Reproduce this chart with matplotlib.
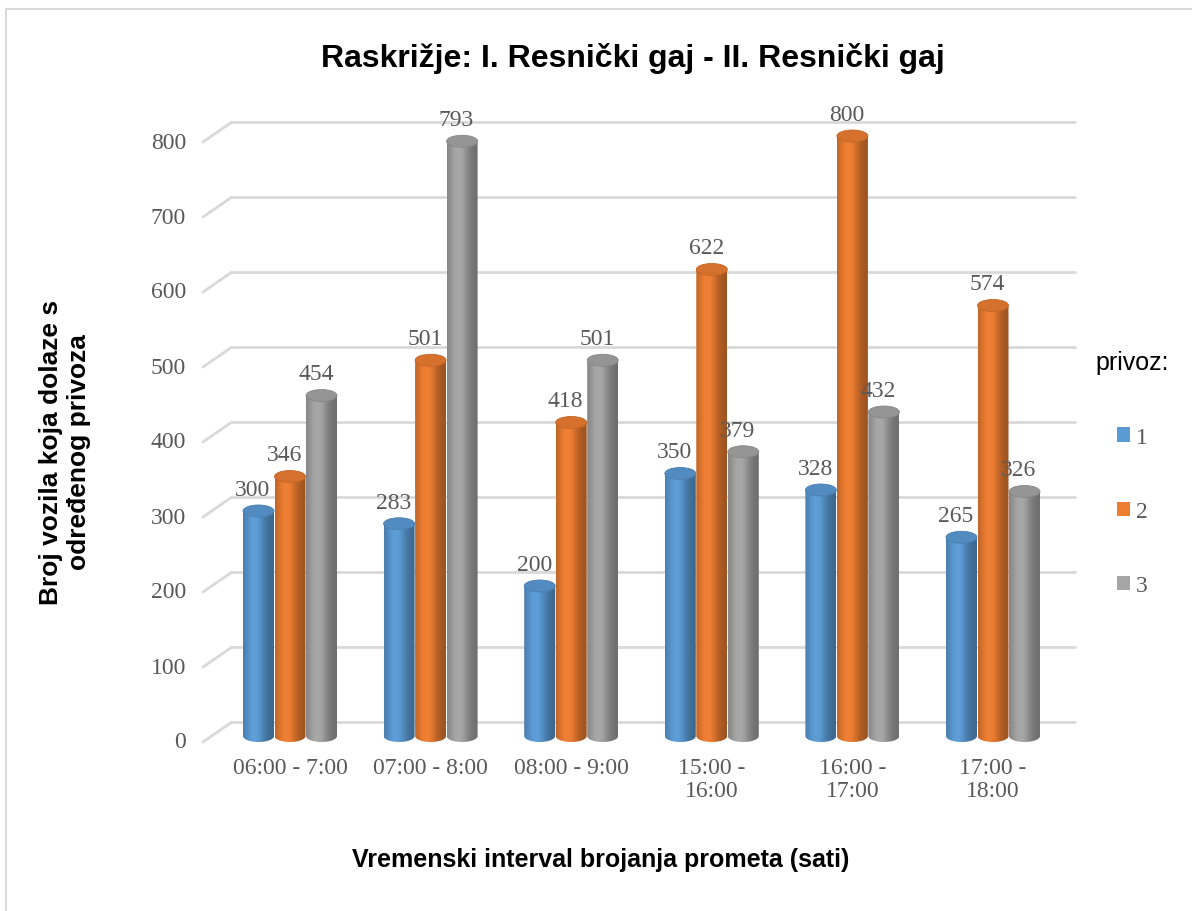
import numpy as np
import matplotlib.pyplot as plt
from matplotlib.patches import Ellipse, PathPatch, Patch
from matplotlib.path import Path
from matplotlib.colors import to_rgb

# Podaci
intervali = ["06:00 - 7:00", "07:00 - 8:00", "08:00 - 9:00",
             "15:00 -\n16:00", "16:00 -\n17:00", "17:00 -\n18:00"]
privoz_1 = [300, 283, 200, 350, 328, 265]
privoz_2 = [346, 501, 418, 622, 800, 574]
privoz_3 = [454, 793, 501, 379, 432, 326]
serije = ["1", "2", "3"]
boje = ["#5B9BD5", "#ED7D31", "#A5A5A5"]
y_ticks = [0, 100, 200, 300, 400, 500, 600, 700, 800]

W, H = 1192, 912
PX_CAT = 140.6    # pikseli po kategoriji
PX_VAL = 0.75     # pikseli po jedinici
X0_PX = 290       # centar prve grupe
BASE_PX = 737     # dno stupaca

fig = plt.figure(figsize=(W / 100, H / 100), dpi=100)
ax_l, ax_r, ax_t, ax_b = 160, 1080, 100, 752
ax = fig.add_axes([ax_l / W, 1 - ax_b / H, (ax_r - ax_l) / W, (ax_b - ax_t) / H])
ax.set_xlim((ax_l - X0_PX) / PX_CAT, (ax_r - X0_PX) / PX_CAT)
ax.set_ylim((BASE_PX - ax_b) / PX_VAL, (BASE_PX - ax_t) / PX_VAL)
ax.axis("off")

# okvir
fig.add_artist(plt.Line2D([6 / W, 6 / W], [0, 1 - 10 / H], color="#d9d9d9", lw=1.5))
fig.add_artist(plt.Line2D([6 / W, 1], [1 - 10 / H, 1 - 10 / H], color="#d9d9d9", lw=1.5))

# mreza (straznji zid + pod)
back_up = 14 / PX_VAL
front_down = 6 / PX_VAL
x_back = (232 - X0_PX) / PX_CAT
x_front = (203 - X0_PX) / PX_CAT
x_end = (1075 - X0_PX) / PX_CAT
for g in y_ticks:
    ax.plot([x_back, x_end], [g + back_up, g + back_up], color="#d9d9d9", lw=2, zorder=1,
            solid_capstyle="round")
    ax.plot([x_front, x_back], [g - front_down, g + back_up], color="#d9d9d9", lw=2, zorder=1,
            solid_capstyle="round")
    ax.text(x_front - 17 / PX_CAT, g - front_down, str(g), ha="right", va="center",
            fontsize=17, family="Liberation Serif", color="#595959")

# valjci
bw = 31 / PX_CAT
eh = 12 / PX_VAL
prof = np.linspace(0, 1, 120)
shade = 0.74 + 0.32 * np.exp(-((prof - 0.38) / 0.32) ** 2) - 0.08 * prof


def valjak(xc, v, boja, z):
    c = np.array(to_rgb(boja))
    svjetlo = np.clip(shade - 1, 0, None)
    cols = np.clip(np.outer(np.minimum(shade, 1), c) + np.outer(svjetlo, 1 - c) * 0.8, 0, 1)
    img = cols[np.newaxis, :, :]
    x0, x1 = xc - bw / 2, xc + bw / 2
    t = np.linspace(np.pi, 2 * np.pi, 40)
    bot = np.column_stack([xc + bw / 2 * np.cos(t), eh / 2 * np.sin(t)])
    verts = np.vstack([[[x0, 0], [x0, v], [x1, v], [x1, 0]], bot[::-1], [[x0, 0]]])
    kod = [Path.MOVETO] + [Path.LINETO] * (len(verts) - 2) + [Path.CLOSEPOLY]
    clip = PathPatch(Path(verts, kod), facecolor="none", edgecolor="none")
    ax.add_patch(clip)
    im = ax.imshow(img, extent=[x0, x1, -eh / 2, v], aspect="auto", zorder=z,
                   interpolation="bilinear")
    im.set_clip_path(clip)
    top = tuple(c * 0.9)
    ax.add_patch(Ellipse((xc, v), bw, eh, facecolor=top, edgecolor=tuple(c * 0.82),
                         lw=0.6, zorder=z + 0.1))
    ax.annotate(str(v), (xc, v), xytext=(-4, 8), textcoords="offset points",
                ha="center", va="bottom", fontsize=17, family="Liberation Serif",
                color="#595959", zorder=10)


off = 31.5 / PX_CAT
for i in range(len(intervali)):
    for k, vals in enumerate([privoz_1, privoz_2, privoz_3]):
        valjak(i + (k - 1) * off, vals[i], boje[k], 3 + k)

# oznake kategorija
for i, lab in enumerate(intervali):
    ax.text(i, (BASE_PX - 758) / PX_VAL, lab, ha="center", va="top", fontsize=17,
            family="Liberation Serif", color="#595959", linespacing=1.15)

# naslovi
fig.text(633 / W, 1 - 67 / H, "Raskrižje: I. Resnički gaj - II. Resnički gaj",
         ha="center", va="baseline", fontsize=23, fontweight="bold",
         family="Liberation Sans")
fig.text(601 / W, 1 - 867 / H, "Vremenski interval brojanja prometa (sati)",
         ha="center", va="baseline", fontsize=18, fontweight="bold",
         family="Liberation Sans")
fig.text(65 / W, 1 - 452 / H, "Broj vozila koja dolaze s\nodređenog privoza",
         ha="center", va="center", rotation=90, fontsize=19, fontweight="bold",
         family="Liberation Sans", linespacing=1.25)

# legenda
handles = [Patch(facecolor=b, edgecolor="none") for b in boje]
leg = fig.legend(handles, serije, loc="center", bbox_to_anchor=(1132 / W, 1 - 474 / H),
                 frameon=False, title="privoz:", handlelength=0.55, handleheight=0.55,
                 handletextpad=0.25, labelspacing=2.25, borderpad=0.2,
                 prop={"family": "Liberation Serif", "size": 17},
                 title_fontproperties={"family": "Liberation Sans", "size": 18})
for t in leg.get_texts():
    t.set_color("#595959")

fig.savefig("out.png", dpi=100)
